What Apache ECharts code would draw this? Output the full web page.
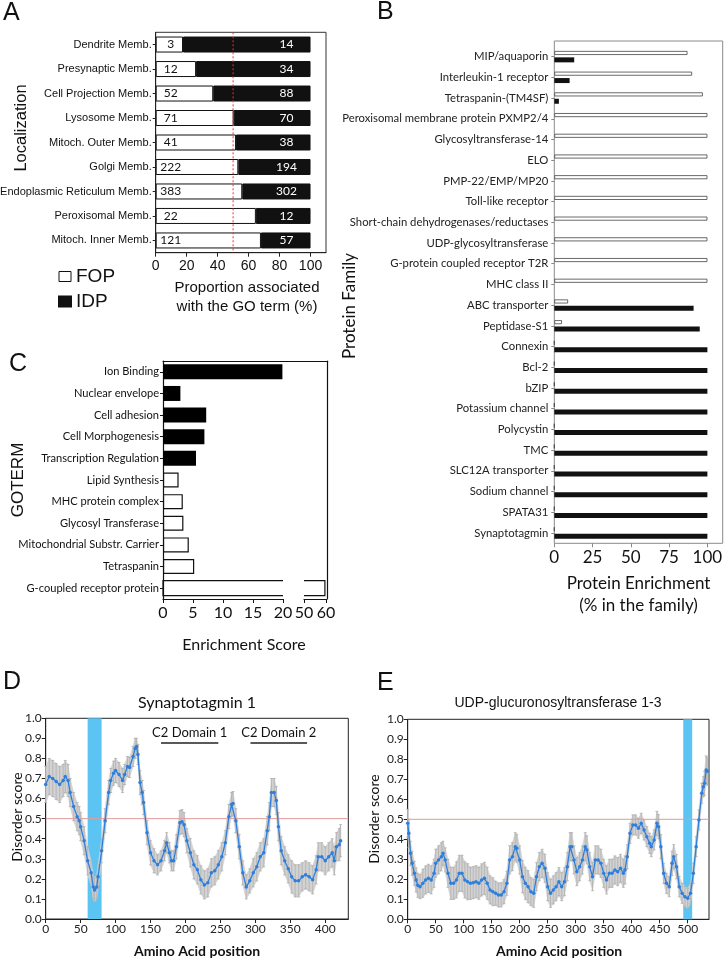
<!DOCTYPE html>
<html><head><meta charset="utf-8">
<script src="https://cdn.jsdelivr.net/npm/echarts@6/dist/echarts.min.js"></script>
<style>html,body{margin:0;padding:0;background:#fff}#c{width:727px;height:961px}</style>
</head><body><div id="c"></div>
<script>
// ---------- Panel A ----------
const locCategories = ['Dendrite Memb.','Presynaptic Memb.','Cell Projection Memb.','Lysosome Memb.','Mitoch. Outer Memb.','Golgi Memb.','Endoplasmic Reticulum Memb.','Peroxisomal Memb.','Mitoch. Inner Memb.'];
const locFOP = [3,12,52,71,41,222,383,22,121];
const locIDP = [14,34,88,70,38,194,302,12,57];
const locTicks = [0,20,40,60,80,100];
const locThreshold = 50;
// ---------- Panel B ----------
const famCategories = ['MIP/aquaporin','Interleukin-1 receptor','Tetraspanin-(TM4SF)','Peroxisomal membrane protein PXMP2/4','Glycosyltransferase-14','ELO','PMP-22/EMP/MP20','Toll-like receptor','Short-chain dehydrogenases/reductases','UDP-glycosyltransferase','G-protein coupled receptor T2R','MHC class II','ABC transporter','Peptidase-S1','Connexin','Bcl-2','bZIP','Potassium channel','Polycystin','TMC','SLC12A transporter','Sodium channel','SPATA31','Synaptotagmin'];
const famFOP = [87,90,97,100,100,100,100,100,100,100,100,100,9,5,0,0,0,0,0,0,0,0,0,0];
const famIDP = [13,10,3,0,0,0,0,0,0,0,0,0,91,95,100,100,100,100,100,100,100,100,100,100];
const famTicks = [0,25,50,75,100];
// ---------- Panel C ----------
const goCategories = ['Ion Binding','Nuclear envelope','Cell adhesion','Cell Morphogenesis','Transcription Regulation','Lipid Synthesis','MHC protein complex','Glycosyl Transferase','Mitochondrial Substr. Carrier','Tetraspanin','G-coupled receptor protein'];
const goScore = [19.9,2.9,7.2,6.9,5.5,2.6,3.3,3.4,4.3,5.2,59.5];
const goGroup = ['IDP','IDP','IDP','IDP','IDP','FOP','FOP','FOP','FOP','FOP','FOP'];
const goLowRange = [0,20];
const goHighRange = [50,60];
const goLowTicks = [0,5,10,15,20];
const goHighTicks = [50,60];
// ---------- Panel D (Synaptotagmin 1) ----------
const dPos = [0,5,10,15,20,25,28,32,35,40,45,48,50,55,60,65,68,70,73,75,80,85,90,93,97,100,105,110,113,117,120,125,128,130,132,135,138,140,145,150,155,160,165,170,173,177,180,183,187,192,195,198,202,207,212,217,222,227,232,237,242,247,252,257,262,266,268,272,277,282,287,292,297,302,307,312,317,320,323,327,330,333,337,342,347,352,357,362,367,372,377,382,387,390,395,400,405,410,413,416,420,422];
const dScore = [0.67,0.71,0.70,0.685,0.67,0.69,0.71,0.69,0.63,0.56,0.51,0.49,0.46,0.39,0.29,0.23,0.16,0.145,0.16,0.21,0.34,0.49,0.63,0.69,0.726,0.74,0.72,0.69,0.72,0.76,0.755,0.81,0.85,0.86,0.82,0.68,0.63,0.58,0.43,0.33,0.29,0.27,0.29,0.34,0.38,0.33,0.29,0.29,0.36,0.48,0.485,0.47,0.39,0.33,0.27,0.245,0.195,0.17,0.18,0.23,0.24,0.27,0.31,0.38,0.51,0.57,0.575,0.49,0.36,0.23,0.16,0.19,0.23,0.26,0.31,0.33,0.44,0.51,0.63,0.63,0.59,0.46,0.34,0.29,0.25,0.21,0.19,0.19,0.21,0.22,0.21,0.195,0.245,0.31,0.31,0.29,0.31,0.33,0.29,0.36,0.37,0.39];
const dErr = [0.09,0.09,0.09,0.09,0.09,0.08,0.08,0.08,0.07,0.07,
 0.07,0.07,0.07,0.07,0.07,0.06,0.06,0.06,0.06,0.06,
 0.06,0.06,0.06,0.06,0.06,0.06,0.06,0.06,0.05,0.05,
 0.05,0.05,0.05,0.04,0.05,0.06,0.06,0.06,0.06,0.06,
 0.06,0.05,0.05,0.05,0.05,0.05,0.05,0.05,0.06,0.06,
 0.06,0.06,0.06,0.07,0.07,0.07,0.07,0.07,0.07,0.07,
 0.07,0.07,0.07,0.06,0.06,0.06,0.06,0.06,0.06,0.06,
 0.06,0.06,0.07,0.07,0.07,0.07,0.07,0.07,0.07,0.07,
 0.07,0.07,0.07,0.07,0.07,0.08,0.08,0.08,0.07,0.07,
 0.07,0.07,0.07,0.07,0.07,0.07,0.07,0.07,0.07,0.07,
 0.08,0.08];
const dHighlight = [60,80];
const dDomains = [{name:'C2 Domain 1', from:165, to:247},{name:'C2 Domain 2', from:293, to:374}];
const dDomainLevel = 0.88;
const dXTicks = [0,50,100,150,200,250,300,350,400];
// ---------- Panel E (UDP-glucuronosyltransferase 1-3) ----------
const ePos = [0,2,5,8,12,15,18,22,27,32,37,42,47,50,55,60,63,67,72,77,82,87,92,97,102,107,112,117,122,127,132,137,142,147,152,157,162,167,172,177,182,187,192,195,200,205,210,215,220,225,230,235,240,245,250,255,260,265,270,275,280,285,290,293,297,302,307,312,317,320,325,330,335,340,345,350,355,360,365,370,375,380,385,388,392,397,402,407,412,417,422,427,432,435,440,445,448,452,457,462,467,472,475,480,485,490,495,500,505,510,515,520,525,528,530,533,535];
const eScore = [0.48,0.43,0.33,0.28,0.23,0.197,0.17,0.163,0.18,0.197,0.205,0.197,0.23,0.28,0.297,0.313,0.33,0.297,0.23,0.18,0.18,0.197,0.23,0.23,0.197,0.188,0.18,0.183,0.188,0.18,0.197,0.205,0.18,0.147,0.138,0.13,0.122,0.122,0.138,0.18,0.297,0.313,0.363,0.355,0.297,0.213,0.18,0.163,0.138,0.13,0.213,0.263,0.28,0.255,0.163,0.13,0.147,0.163,0.188,0.163,0.188,0.263,0.363,0.363,0.297,0.238,0.263,0.297,0.363,0.347,0.263,0.213,0.297,0.297,0.28,0.23,0.197,0.23,0.23,0.247,0.238,0.255,0.23,0.247,0.313,0.43,0.472,0.472,0.455,0.48,0.447,0.413,0.38,0.363,0.397,0.48,0.463,0.363,0.23,0.18,0.163,0.28,0.313,0.263,0.163,0.13,0.113,0.105,0.13,0.23,0.363,0.497,0.63,0.663,0.68,0.747,0.74];
const eErr = [0.07,0.07,0.06,0.06,0.06,0.06,0.06,0.06,0.07,0.07,
 0.07,0.07,0.07,0.07,0.07,0.07,0.06,0.06,0.07,0.08,
 0.08,0.09,0.09,0.09,0.09,0.09,0.08,0.08,0.08,0.08,
 0.08,0.08,0.08,0.07,0.07,0.06,0.06,0.06,0.06,0.06,
 0.07,0.07,0.07,0.07,0.07,0.08,0.08,0.08,0.07,0.07,
 0.07,0.07,0.07,0.07,0.07,0.07,0.07,0.07,0.07,0.07,
 0.07,0.07,0.07,0.07,0.07,0.07,0.07,0.07,0.07,0.07,
 0.07,0.07,0.07,0.07,0.07,0.07,0.07,0.07,0.07,0.07,
 0.07,0.07,0.07,0.07,0.06,0.05,0.05,0.05,0.05,0.05,
 0.05,0.05,0.05,0.05,0.05,0.06,0.06,0.06,0.05,0.05,
 0.05,0.06,0.06,0.06,0.05,0.05,0.05,0.05,0.05,0.05,
 0.05,0.05,0.05,0.05,0.06,0.07,0.07];
const eHighlight = [492,508];
const eXTicks = [0,50,100,150,200,250,300,350,400,450,500];
const disorderThreshold = 0.5;

// ---------- styling ----------
const ARIAL = 'Liberation Sans';
const CAL = 'Lato';
const BLUE = '#2e7fdc';
const BANDBLUE = '#5bc4f3';
const GREY = '#d2d2d2';
const ERRGREY = '#b0b0b0';

const locPct = locFOP.map((f,i)=> f/(f+locIDP[i])*100);
const locPctIDP = locIDP.map((d,i)=> d/(d+locFOP[i])*100);

function hidden(type, gridIndex, extra){
  return Object.assign({type:type, gridIndex:gridIndex, show:false, min:0, max:1}, extra||{});
}
// reference line across the whole plot area, placed through the axis scale
function refLine(xi, yi, value, vertical, style, z){
  return {type:'custom', xAxisIndex:xi, yAxisIndex:yi, z:z, silent:true, clip:false,
    data: vertical ? [[value, 0]] : [[0, value]],
    encode:{x:0, y:1},
    renderItem:function(params, api){
      const cs = params.coordSys;
      const p = api.coord([api.value(0), api.value(1)]);
      const shape = vertical ? {x1:p[0], y1:cs.y, x2:p[0], y2:cs.y+cs.height}
                             : {x1:cs.x, y1:p[1], x2:cs.x+cs.width, y2:p[1]};
      return {type:'line', shape:shape, style:style};
    }};
}
function bandSeries(pos, score, err, xi, yi, highlight){
  const segs = [];
  for (let i=0;i<pos.length-1;i++){
    segs.push([pos[i], score[i]-err[i], score[i]+err[i], pos[i+1], score[i+1]-err[i+1], score[i+1]+err[i+1]]);
  }
  return [
    {type:'custom', xAxisIndex:xi, yAxisIndex:yi, z:2, silent:true, data:segs,
     encode:{x:[0,3], y:[1,2,4,5]},
     renderItem:function(params, api){
       const a = api.coord([api.value(0), api.value(1)]);
       const b = api.coord([api.value(3), api.value(4)]);
       const c = api.coord([api.value(3), api.value(5)]);
       const d = api.coord([api.value(0), api.value(2)]);
       return {type:'polygon', shape:{points:[a,b,c,d]}, style:{fill:GREY, stroke:GREY, lineWidth:0.6}};
     },
     markArea:{silent:true, z:1, itemStyle:{color:BANDBLUE, opacity:1}, data:[[{xAxis:highlight[0]},{xAxis:highlight[1]}]]}},
    {type:'custom', xAxisIndex:xi, yAxisIndex:yi, z:3, silent:true,
     data: pos.map((p,i)=>[p, score[i]-err[i], score[i]+err[i]]),
     encode:{x:0, y:[1,2]},
     renderItem:function(params, api){
       const x = api.value(0);
       const lo = api.coord([x, api.value(1)]);
       const hi = api.coord([x, api.value(2)]);
       const st = {stroke:ERRGREY, lineWidth:0.8};
       return {type:'group', children:[
         {type:'line', shape:{x1:lo[0],y1:lo[1],x2:hi[0],y2:hi[1]}, style:st},
         {type:'line', shape:{x1:hi[0]-1.5,y1:hi[1],x2:hi[0]+1.5,y2:hi[1]}, style:st},
         {type:'line', shape:{x1:lo[0]-1.5,y1:lo[1],x2:lo[0]+1.5,y2:lo[1]}, style:st}
       ]};
     }},
    refLine(xi, yi, disorderThreshold, false, {stroke:'#e39a9a', lineWidth:1}, 3.5)
  ];
}
function disorderLine(pos, score, xi, yi, extraMarks){
  const s = {type:'line', xAxisIndex:xi, yAxisIndex:yi, z:4, data: pos.map((p,i)=>[p, score[i]]),
    symbol:'circle', symbolSize:3.5, showAllSymbol:true,
    itemStyle:{color:BLUE}, lineStyle:{color:BLUE, width:1.3}};
  if (extraMarks && extraMarks.length) s.markLine = {silent:true, symbol:'none', z:3, animation:false, data:extraMarks};
  return s;
}
function scoreXAxis(gridIndex, max, ticks){
  return {type:'value', gridIndex:gridIndex, min:0, max:max,
    axisLine:{show:true, lineStyle:{color:'#222'}},
    axisTick:{show:true, length:4, customValues:ticks, lineStyle:{color:'#222'}},
    axisLabel:{customValues:ticks, fontFamily:CAL, fontSize:12, color:'#222', margin:4},
    splitLine:{show:false}};
}
function scoreYAxis(gridIndex){
  return {type:'value', gridIndex:gridIndex, min:0, max:1, interval:0.1,
    axisLine:{show:true, lineStyle:{color:'#222'}},
    axisTick:{show:true, length:4, lineStyle:{color:'#222'}},
    axisLabel:{fontFamily:CAL, fontSize:12, color:'#222', margin:4, formatter:v=>v.toFixed(1)},
    splitLine:{show:false}};
}
function txt(text, x, y, size, family, opts){
  opts = opts || {};
  return {type:'text', x:x, y:y, rotation: opts.rot||0, silent:true,
    style:{text:text, fontSize:size, fontFamily:family, fontWeight:opts.bold?'bold':'normal', fill:opts.color||'#111',
      textAlign: opts.align||'center', textVerticalAlign:'middle', verticalAlign:'middle'}};
}

const grids = [
  {left:155.7, top:32.3, width:170.3, height:220.4, show:true, borderColor:'#333', borderWidth:1},        //0 A
  {left:554.3, top:41, width:168.4, height:502.3, show:true, borderColor:'#8a8a8a', borderWidth:1},        //1 B frame
  {left:554.3, top:46.3, width:168.4, height:497},                                                         //2 B data
  {left:163, top:361, width:120, height:238},                                                              //3 C low
  {left:304, top:361, width:22, height:238},                                                               //4 C high
  {left:163, top:361, width:164.7, height:238},                                                            //5 C frame
  {left:45.7, top:718.3, width:302.6, height:200.7, show:true, borderColor:'#222', borderWidth:1},        //6 D
  {left:407.7, top:719.3, width:301.3, height:200, show:true, borderColor:'#222', borderWidth:1}          //7 E
].map(g=>Object.assign({containLabel:false, outerBoundsMode:'none'}, g));

const xAxes = [
  {type:'value', gridIndex:0, min:0, max:110,
    axisLine:{show:true, lineStyle:{color:'#222'}},
    axisTick:{show:true, length:4, customValues:locTicks, lineStyle:{color:'#222'}},
    axisLabel:{customValues:locTicks, fontFamily:ARIAL, fontSize:14, color:'#111', margin:6},
    splitLine:{show:false}},
  hidden('value',1),
  {type:'value', gridIndex:2, min:0, max:110,
    axisLine:{show:false},
    axisTick:{show:true, length:4, customValues:famTicks, lineStyle:{color:'#888'}},
    axisLabel:{customValues:famTicks, fontFamily:CAL, fontSize:17, color:'#111', margin:6},
    splitLine:{show:false}},
  {type:'value', gridIndex:3, min:goLowRange[0], max:goLowRange[1],
    axisLine:{show:true, lineStyle:{color:'#111', width:1.2}},
    axisTick:{show:true, length:4, customValues:goLowTicks, lineStyle:{color:'#111'}},
    axisLabel:{customValues:goLowTicks, fontFamily:CAL, fontSize:16, color:'#111', margin:6},
    splitLine:{show:false}},
  {type:'value', gridIndex:4, min:goHighRange[0], max:goHighRange[1],
    axisLine:{show:true, lineStyle:{color:'#111', width:1.2}},
    axisTick:{show:true, length:4, customValues:goHighTicks, lineStyle:{color:'#111'}},
    axisLabel:{customValues:goHighTicks, fontFamily:CAL, fontSize:16, color:'#111', margin:6},
    splitLine:{show:false}},
  {type:'value', gridIndex:5, position:'top', min:0, max:1,
    axisLine:{show:true, onZero:false, lineStyle:{color:'#111', width:1.2}}, axisTick:{show:false}, axisLabel:{show:false}, splitLine:{show:false}},
  scoreXAxis(6, 433, dXTicks),
  scoreXAxis(7, 538, eXTicks)
];
const yAxes = [
  {type:'category', gridIndex:0, inverse:true, data:locCategories,
    axisLine:{show:true, lineStyle:{color:'#222'}},
    axisTick:{show:true, length:3, alignWithLabel:true, lineStyle:{color:'#222'}},
    axisLabel:{fontFamily:ARIAL, fontSize:11, color:'#111', margin:4}},
  hidden('value',1),
  {type:'category', gridIndex:2, inverse:true, data:famCategories,
    axisLine:{show:false},
    axisTick:{show:true, length:3, alignWithLabel:true, lineStyle:{color:'#888'}},
    axisLabel:{fontFamily:CAL, fontSize:11.3, color:'#222', margin:6}},
  {type:'category', gridIndex:3, inverse:true, data:goCategories,
    axisLine:{show:true, lineStyle:{color:'#111', width:1.2}},
    axisTick:{show:true, length:3, alignWithLabel:true, lineStyle:{color:'#111'}},
    axisLabel:{fontFamily:CAL, fontSize:11.1, color:'#111', margin:4}},
  {type:'category', gridIndex:4, inverse:true, data:goCategories, show:false},
  {type:'value', gridIndex:5, position:'right', min:0, max:1,
    axisLine:{show:true, onZero:false, lineStyle:{color:'#111', width:1.2}}, axisTick:{show:false}, axisLabel:{show:false}, splitLine:{show:false}},
  scoreYAxis(6),
  scoreYAxis(7)
];

const goBarData = goScore.map((v,i)=> v > goLowRange[1] ? '-' : {value:v,
  itemStyle: goGroup[i]==='IDP' ? {color:'#000'} : {color:'#fff', borderColor:'#111', borderWidth:1.2}});
const goBroken = [];
goScore.forEach((v,i)=>{ if (v > goLowRange[1]) goBroken.push([v,i]); });
const C_BAR_H = 15;

const series = [
  // Panel A
  {type:'bar', name:'FOP', xAxisIndex:0, yAxisIndex:0, stack:'loc', barWidth:16, data:locPct,
    itemStyle:{color:'#fff', borderColor:'#111', borderWidth:1},
    label:{show:true, position:'insideLeft', distance:15, align:'center', fontFamily:CAL, fontSize:12, color:'#111',
      formatter:p=>String(locFOP[p.dataIndex])}},
  {type:'bar', name:'IDP', xAxisIndex:0, yAxisIndex:0, stack:'loc', barWidth:16, data:locPctIDP,
    itemStyle:{color:'#111', borderColor:'#111', borderWidth:1},
    label:{show:true, position:'insideRight', distance:24, align:'center', fontFamily:CAL, fontSize:12, color:'#fff',
      formatter:p=>String(locIDP[p.dataIndex])}},
  refLine(0, 0, locThreshold, true, {stroke:'#e3342f', lineWidth:1, lineDash:[2,2]}, 6),
  // Panel B
  {type:'bar', name:'B FOP', xAxisIndex:2, yAxisIndex:2, barWidth:4, barGap:'60%', data:famFOP,
    itemStyle:{color:'#fff', borderColor:'#444', borderWidth:0.8}},
  {type:'bar', name:'B IDP', xAxisIndex:2, yAxisIndex:2, barWidth:5, barGap:'60%', data:famIDP,
    itemStyle:{color:'#111'}},
  // Panel C
  {type:'bar', name:'GO', xAxisIndex:3, yAxisIndex:3, barWidth:C_BAR_H, data:goBarData},
  {type:'custom', name:'GO broken low', xAxisIndex:3, yAxisIndex:3, data:goBroken, encode:{x:0, y:1}, clip:false,
    renderItem:function(params, api){
      const cat = api.value(1);
      const a = api.coord([goLowRange[0], cat]);
      const b = api.coord([goLowRange[1], cat]);
      const h = C_BAR_H/2;
      return {type:'polyline', shape:{points:[[b[0],a[1]-h],[a[0],a[1]-h],[a[0],a[1]+h],[b[0],a[1]+h]]},
        style:{stroke:'#111', lineWidth:1.2, fill:null}};
    }},
  {type:'custom', name:'GO broken high', xAxisIndex:4, yAxisIndex:4, data:goBroken, encode:{x:0, y:1}, clip:false,
    renderItem:function(params, api){
      const cat = api.value(1);
      const a = api.coord([goHighRange[0], cat]);
      const b = api.coord([api.value(0), cat]);
      const h = C_BAR_H/2;
      return {type:'polyline', shape:{points:[[a[0],a[1]-h],[b[0],a[1]-h],[b[0],a[1]+h],[a[0],a[1]+h]]},
        style:{stroke:'#111', lineWidth:1.2, fill:null}};
    }},
  // invisible anchor so the C frame axes are laid out
  {type:'line', name:'C frame', xAxisIndex:5, yAxisIndex:5, data:[[0,0],[1,1]], symbol:'none', silent:true, lineStyle:{opacity:0}}
]
.concat(bandSeries(dPos, dScore, dErr, 6, 6, dHighlight))
.concat([disorderLine(dPos, dScore, 6, 6, dDomains.map(d=>[
  {coord:[d.from, dDomainLevel], name:d.name, lineStyle:{color:'#222', width:1.5, type:'solid'},
   label:{show:true, position:'insideMiddleTop', distance:3, formatter:'{b}', fontFamily:CAL, fontSize:13, color:'#111'}},
  {coord:[d.to, dDomainLevel]}
]))])
.concat(bandSeries(ePos, eScore, eErr, 7, 7, eHighlight))
.concat([disorderLine(ePos, eScore, 7, 7, [])]);

const graphics = [
  txt('A', 3, 13, 25, ARIAL, {align:'left'}),
  txt('B', 377, 12, 25, ARIAL, {align:'left'}),
  txt('C', 9, 364, 25, ARIAL, {align:'left'}),
  txt('D', 3, 682, 25, ARIAL, {align:'left'}),
  txt('E', 377, 683, 25, ARIAL, {align:'left'}),
  txt('Localization', 21, 128, 16.5, ARIAL, {rot:Math.PI/2}),
  txt('Proportion associated', 247, 288, 15, ARIAL),
  txt('with the GO term (%)', 247, 307, 15, ARIAL),
  txt('Protein Family', 350, 306, 17, CAL, {rot:Math.PI/2}),
  txt('Protein Enrichment', 638.5, 584, 17, CAL),
  txt('(% in the family)', 638.5, 606, 17, CAL),
  txt('GOTERM', 18, 480, 17, ARIAL, {rot:Math.PI/2}),
  txt('Enrichment Score', 244, 645, 16, CAL),
  txt('Synaptotagmin 1', 197, 703, 16, CAL),
  txt('UDP-glucuronosyltransferase 1-3', 558, 703, 14, ARIAL),
  txt('Disorder score', 17, 817, 14, CAL, {rot:Math.PI/2}),
  txt('Disorder score', 374, 819, 14, CAL, {rot:Math.PI/2}),
  txt('Amino Acid position', 197, 951, 14, CAL, {bold:true}),
  txt('Amino Acid position', 559, 951, 14, CAL, {bold:true})
];

const chart = echarts.init(document.getElementById('c'), null, {renderer:'canvas', width:727, height:961});
chart.setOption({
  backgroundColor:'#fff',
  animation:false,
  textStyle:{fontFamily:CAL},
  grid:grids,
  xAxis:xAxes,
  yAxis:yAxes,
  legend:{orient:'vertical', left:53, top:262, icon:'rect', itemWidth:12, itemHeight:10, itemGap:6,
    textStyle:{fontFamily:ARIAL, fontSize:19, color:'#111'}, selectedMode:false,
    data:[{name:'FOP', itemStyle:{color:'#fff', borderColor:'#111', borderWidth:1}}, {name:'IDP', itemStyle:{color:'#111'}}]},
  series:series,
  graphic:graphics
});
</script>
</body></html>
